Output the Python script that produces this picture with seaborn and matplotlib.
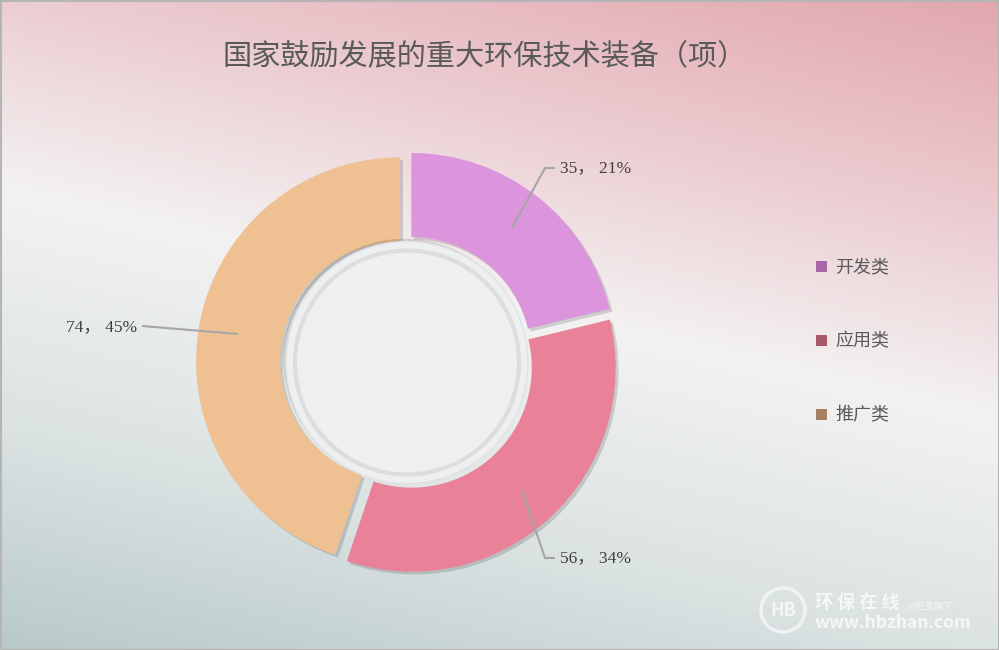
import numpy as np
import pandas as pd
import seaborn as sns
import matplotlib
matplotlib.use("Agg")
import matplotlib.pyplot as plt
from matplotlib.patches import Circle, Rectangle
import matplotlib.patheffects as pe

# ---- data ----
title = "国家鼓励发展的重大环保技术装备（项）"
categories = ["开发类", "应用类", "推广类"]
values = [35, 56, 74]
percents = ["21%", "34%", "45%"]

df = pd.DataFrame({"category": categories, "value": values, "pct": percents})

sns.set_theme(style="white")
plt.rcParams['font.family'] = ['Noto Sans CJK SC', 'DejaVu Sans']

W, H = 999, 650
fig = plt.figure(figsize=(W / 100, H / 100), dpi=100)
ax = fig.add_axes([0, 0, 1, 1])
ax.set_xlim(0, W)
ax.set_ylim(0, H)
ax.set_axis_off()

# ---- background gradient ----
yy, xx = np.mgrid[0:H, 0:W]
n = np.array([-0.224, 0.975])
t = xx * n[0] + yy * n[1]
stops_t = [-224, 0, 185, 410, 634]
cols = [np.array([226, 166, 174]), np.array([236, 206, 210]), np.array([243, 242, 242]),
        np.array([220, 227, 227]), np.array([184, 201, 202])]
rgb = np.zeros((H, W, 3))
for c in range(3):
    rgb[..., c] = np.interp(t, stops_t, [col[c] for col in cols])
ax.imshow(rgb / 255.0, extent=[0, W, 0, H], origin='upper', zorder=0, aspect='auto')
ax.add_patch(Rectangle((0.5, 0.5), W - 1, H - 1, fill=False, edgecolor='#b5b5b5', lw=1.5, zorder=10))

# ---- donut ----
cx, cy = 407, H - 362.5
R = 204
r_in = 120
colors = ["#DC94DC", "#E98299", "#EFC091"]
legend_colors = ["#A868A8", "#A85868", "#A88060"]

wedges, _ = ax.pie(df["value"], colors=colors, startangle=90, counterclock=False,
                   center=(cx, cy), radius=R, explode=[7, 7, 7],
                   wedgeprops=dict(width=R - r_in, edgecolor='none', linewidth=0), frame=True)
for w in wedges:
    w.set_path_effects([pe.SimplePatchShadow(offset=(2, -2), shadow_rgbFace='#000000', alpha=0.15), pe.Normal()])
    w.set_zorder(2)
ax.set_xlim(0, W)
ax.set_ylim(0, H)
ax.set_aspect('equal')
ax.set_axis_off()

# hole disc
hole = Circle((cx, cy), r_in + 1, facecolor='#eeeff0', edgecolor='#e0e2e3', lw=1, zorder=3)
hole.set_path_effects([pe.SimplePatchShadow(offset=(-2, 2), shadow_rgbFace='#000000', alpha=0.12), pe.Normal()])
ax.add_patch(hole)
ax.add_patch(Circle((cx, cy), r_in - 8, facecolor='none', edgecolor='#dcdddf', lw=3, zorder=4))

# ---- labels with leader lines ----
label_specs = [
    ([(512, 228), (545, 168), (555, 168)], (560, 168), 'left'),
    ([(522, 490), (545, 558), (555, 558)], (560, 558), 'left'),
    ([(238, 334), (142, 326)], (137, 327), 'right'),
]
for (pts, tpos, ha), v, p in zip(label_specs, df["value"], df["pct"]):
    xs = [q[0] for q in pts]
    ys = [H - q[1] for q in pts]
    ax.plot(xs, ys, color='#a6a6a6', lw=1.5, zorder=5, solid_capstyle='butt')
    ax.text(tpos[0], H - tpos[1], f"{v}， {p}", ha=ha, va='center', fontsize=12.5,
            color='#404040', family=['Liberation Serif', 'Noto Sans CJK SC'], zorder=6)

# ---- title ----
ax.text(W / 2 - 15, H - 57, title, ha='center', va='center', fontsize=21, color='#595959', zorder=6)

# ---- legend ----
for i, (cat, lc) in enumerate(zip(df["category"], legend_colors)):
    y = H - (267 + 74 * i)
    ax.add_patch(Rectangle((816, y - 5), 11, 11, facecolor=lc, edgecolor='none', zorder=6))
    ax.text(835, y, cat, ha='left', va='center', fontsize=13, color='#595959', zorder=6)

# ---- watermark ----
ax.add_patch(Circle((783, H - 610), 22, facecolor='none', edgecolor='white', lw=2.5, alpha=0.6, zorder=6))
ax.text(783, H - 610, "HB", ha='center', va='center', fontsize=13, color='white', alpha=0.7,
        fontweight='bold', style='italic', zorder=6)
ax.text(815, H - 603, "环 保 在 线", ha='left', va='center', fontsize=13, color='white', alpha=0.75,
        fontweight='bold', zorder=6)
ax.text(908, H - 607, "兴旺宝旗下", ha='left', va='center', fontsize=6.5, color='white', alpha=0.75, zorder=6)
ax.text(815, H - 623, "www.hbzhan.com", ha='left', va='center', fontsize=12.5, color='white', alpha=0.75,
        fontweight='bold', zorder=6)

fig.savefig("out.png", dpi=100)
